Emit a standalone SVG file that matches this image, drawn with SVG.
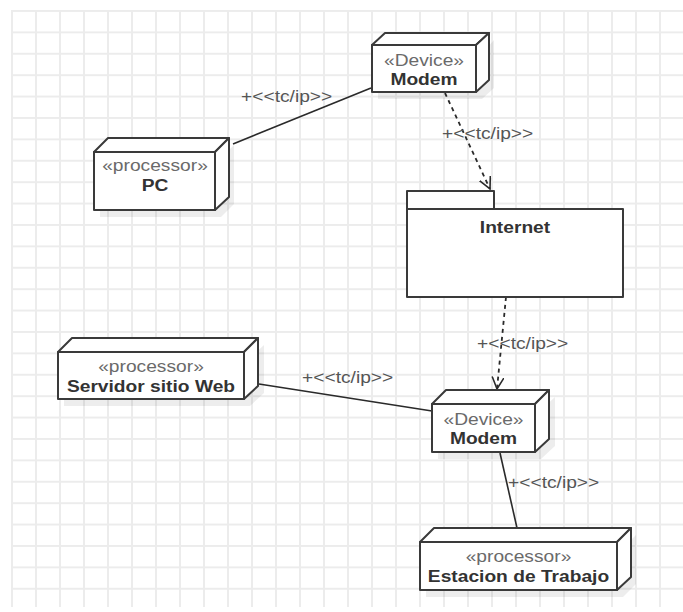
<svg xmlns="http://www.w3.org/2000/svg" width="683" height="612" viewBox="0 0 683 612">
<style>
  .bg { fill: #ffffff; }
  .front { fill: #ffffff; stroke: #3a3a3a; stroke-width: 2; stroke-linejoin: round; }
  .side { fill: #ffffff; stroke: #3a3a3a; stroke-width: 2; stroke-linejoin: round; }
  .shadow { fill: #000000; fill-opacity: 0.07; }
  .st { font-family: "Liberation Sans", Arial, sans-serif; font-size: 17px; fill: #6a6a6a; text-anchor: middle; }
  .nm { font-family: "Liberation Sans", Arial, sans-serif; font-size: 17px; font-weight: bold; fill: #333333; text-anchor: middle; }
  .lbl { font-family: "Liberation Sans", Arial, sans-serif; font-size: 17px; fill: #555555; }
  .solid { fill: none; stroke: #2a2a2a; stroke-width: 1.6; }
  .dash { fill: none; stroke: #2a2a2a; stroke-width: 1.8; stroke-dasharray: 4 4; }
</style>
<defs>
  <pattern id="grid" patternUnits="userSpaceOnUse" x="11" y="10" width="24" height="21.4">
    <path d="M0,1 H24 M1,0 V21.4" fill="none" stroke="#ececec" stroke-width="2"/>
  </pattern>
  <marker id="open" markerUnits="userSpaceOnUse" markerWidth="14" markerHeight="14" refX="12" refY="6" orient="auto">
    <path d="M0,0 L12,6 L0,12" fill="none" stroke="#2a2a2a" stroke-width="1.6"/>
  </marker>
</defs>
<rect class="bg" x="0" y="0" width="683" height="612"/>
<rect x="11" y="10" width="672" height="597" fill="url(#grid)"/>

<g id="connectors">
  <line class="solid" x1="233" y1="144" x2="371" y2="88"/>
  <path class="dash" d="M445,93 L490,189" marker-end="url(#open)"/>
  <path class="dash" d="M506,297 L497,389" marker-end="url(#open)"/>
  <line class="solid" x1="259" y1="384" x2="432" y2="411"/>
  <line class="solid" x1="500" y1="453" x2="517" y2="528"/>
  <text class="lbl" transform="translate(241,102) scale(1.13,1)">+&lt;&lt;tc/ip&gt;&gt;</text>
  <text class="lbl" transform="translate(442,139) scale(1.13,1)">+&lt;&lt;tc/ip&gt;&gt;</text>
  <text class="lbl" transform="translate(477,349) scale(1.13,1)">+&lt;&lt;tc/ip&gt;&gt;</text>
  <text class="lbl" transform="translate(302,383) scale(1.13,1)">+&lt;&lt;tc/ip&gt;&gt;</text>
  <text class="lbl" transform="translate(508,488) scale(1.13,1)">+&lt;&lt;tc/ip&gt;&gt;</text>
</g>

<g id="modem-top">
  <polygon class="shadow" points="378,51 484,51 494,40 494,88 482,99 378,99"/>
  <polygon class="side" points="372,45 385,33 489,33 476,45"/>
  <polygon class="side" points="476,45 489,33 489,80 476,92"/>
  <rect class="front" x="372" y="45" width="104" height="47"/>
  <text class="st" transform="translate(424,66) scale(1.13,1)">«Device»</text>
  <text class="nm" transform="translate(424,85) scale(1.13,1)">Modem</text>
</g>

<g id="pc">
  <polygon class="shadow" points="100,158 221,158 234,145 234,204 221,217 100,217"/>
  <polygon class="side" points="94,152 108,138 229,138 215,152"/>
  <polygon class="side" points="215,152 229,138 229,197 215,210"/>
  <rect class="front" x="94" y="152" width="121" height="58"/>
  <text class="st" transform="translate(155,171) scale(1.13,1)">«processor»</text>
  <text class="nm" transform="translate(155,191) scale(1.13,1)">PC</text>
</g>

<g id="internet">
  <rect class="front" x="407" y="191" width="87" height="18"/>
  <rect class="front" x="407" y="209" width="216" height="88"/>
  <text class="nm" transform="translate(515,233) scale(1.13,1)">Internet</text>
</g>

<g id="servidor">
  <polygon class="shadow" points="64,358 250,358 264,345 264,393 250,406 64,406"/>
  <polygon class="side" points="58,352 72,338 258,338 244,352"/>
  <polygon class="side" points="244,352 258,338 258,386 244,399"/>
  <rect class="front" x="58" y="352" width="186" height="47"/>
  <text class="st" transform="translate(151,372) scale(1.13,1)">«processor»</text>
  <text class="nm" transform="translate(151,392) scale(1.13,1)">Servidor sitio Web</text>
</g>

<g id="modem-bottom">
  <polygon class="shadow" points="438,410 541,410 555,397 555,446 541,459 438,459"/>
  <polygon class="side" points="432,404 446,390 549,390 535,404"/>
  <polygon class="side" points="535,404 549,390 549,439 535,452"/>
  <rect class="front" x="432" y="404" width="103" height="48"/>
  <text class="st" transform="translate(483.5,425) scale(1.13,1)">«Device»</text>
  <text class="nm" transform="translate(483.5,444) scale(1.13,1)">Modem</text>
</g>

<g id="estacion">
  <polygon class="shadow" points="426,548 623,548 636,535 636,584 623,597 426,597"/>
  <polygon class="side" points="420,542 434,528 631,528 617,542"/>
  <polygon class="side" points="617,542 631,528 631,577 617,590"/>
  <rect class="front" x="420" y="542" width="197" height="48"/>
  <text class="st" transform="translate(518.5,562) scale(1.13,1)">«processor»</text>
  <text class="nm" transform="translate(518.5,582) scale(1.13,1)">Estacion de Trabajo</text>
</g>
</svg>
